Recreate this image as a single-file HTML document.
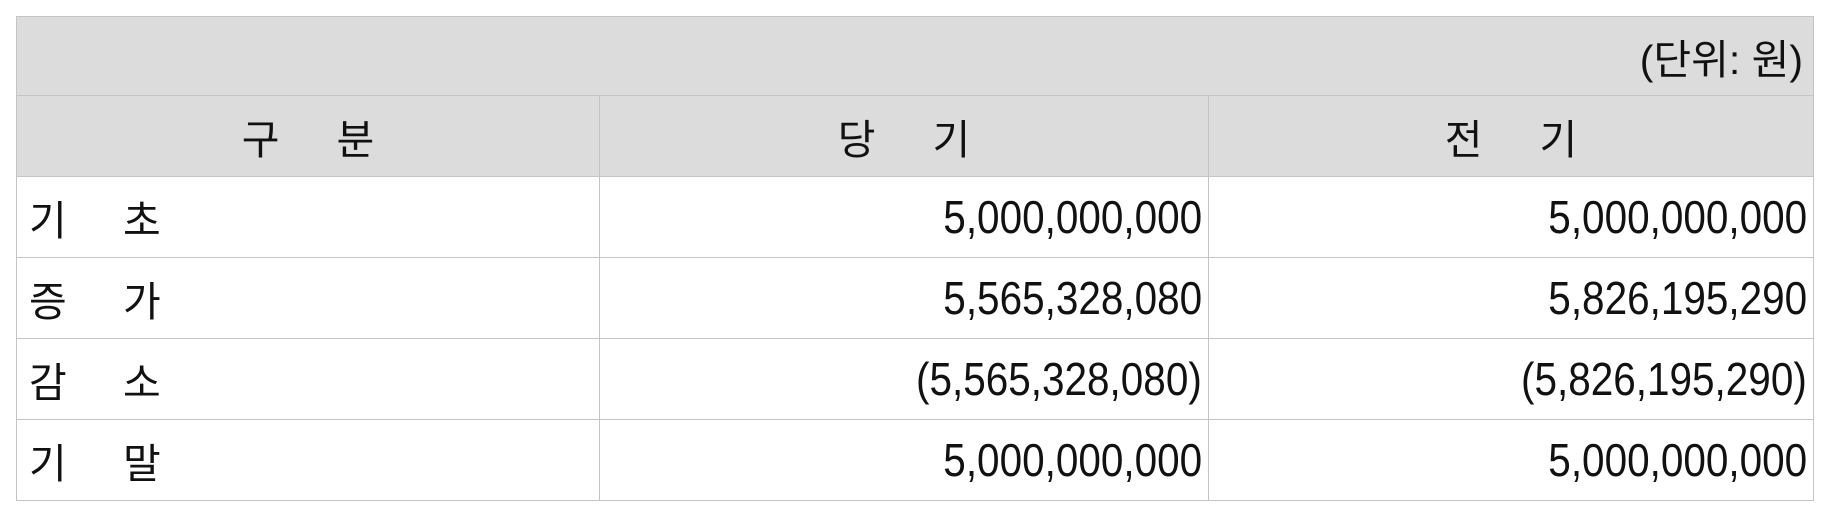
<!DOCTYPE html>
<html><head><meta charset="utf-8"><style>
body{margin:0;width:1833px;height:516px;background:#fff;position:relative;overflow:hidden;font-family:"Liberation Sans","Noto Sans CJK KR","NanumGothic",sans-serif;color:#111}
.c{position:absolute;box-sizing:border-box;border:1px solid #c4c4c4;display:flex;align-items:center}
.h{background:#dcdcdc}
.k{font-size:41px}
.n{font-size:46px;justify-content:flex-end;padding-right:6px}
.n span{display:inline-block;transform:scaleX(0.88);transform-origin:right center}
</style></head><body>
<div>
<div class="c h k" style="left:16px;top:16px;width:1798px;height:80px;justify-content:flex-end;padding-right:10px">(단위: 원)</div>
<div class="c h k" style="left:16px;top:95px;width:584px;height:82px;justify-content:center">구&nbsp;&nbsp;&nbsp;&nbsp;&nbsp;분</div>
<div class="c h k" style="left:599px;top:95px;width:610px;height:82px;justify-content:center">당&nbsp;&nbsp;&nbsp;&nbsp;&nbsp;기</div>
<div class="c h k" style="left:1208px;top:95px;width:606px;height:82px;justify-content:center">전&nbsp;&nbsp;&nbsp;&nbsp;&nbsp;기</div>
<div id="rows"></div>
</div>
<script>
const labels=[["기","초"],["증","가"],["감","소"],["기","말"]];
const current=["5,000,000,000","5,565,328,080","(5,565,328,080)","5,000,000,000"];
const prior=["5,000,000,000","5,826,195,290","(5,826,195,290)","5,000,000,000"];
const tops=[176,257,338,419];
const rows=document.getElementById('rows');
labels.forEach((l,i)=>{
 const t=tops[i];
 const a=document.createElement('div');
 a.className='c k';a.style.cssText=`left:16px;top:${t}px;width:584px;height:82px;padding-left:12px`;
 a.innerHTML=`<span style="display:inline-block;width:94px">${l[0]}</span><span>${l[1]}</span>`;
 
 
 rows.appendChild(a);
 const b=document.createElement('div');
 b.className='c n';b.style.cssText=`left:599px;top:${t}px;width:610px;height:82px`;
 b.innerHTML=`<span>${current[i]}</span>`;
 
 
 rows.appendChild(b);
 const c=document.createElement('div');
 c.className='c n';c.style.cssText=`left:1208px;top:${t}px;width:606px;height:82px`;
 c.innerHTML=`<span>${prior[i]}</span>`;
 
 
 rows.appendChild(c);
});
</script>
</body></html>
